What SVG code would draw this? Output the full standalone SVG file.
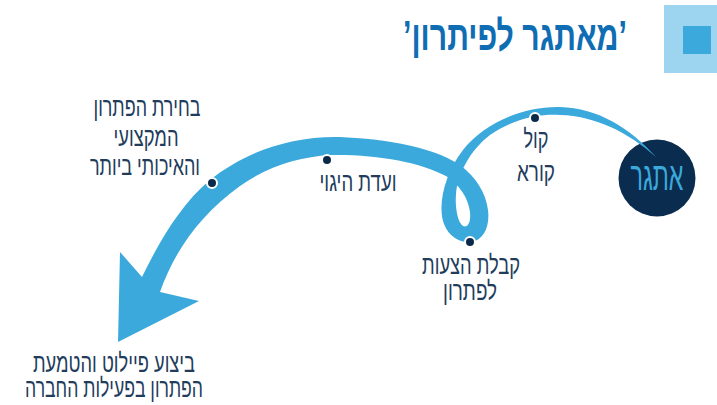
<svg xmlns="http://www.w3.org/2000/svg" width="717" height="405" viewBox="0 0 717 405">
<style>
.lbl{font-family:"Liberation Sans","DejaVu Sans",sans-serif;font-size:26px;fill:#223c5c;text-anchor:middle;direction:rtl}
.title{font-family:"Liberation Sans","DejaVu Sans",sans-serif;font-size:42px;font-weight:bold;fill:#0f6db4;text-anchor:middle;direction:rtl}
.node-lbl{font-family:"Liberation Sans","DejaVu Sans",sans-serif;font-size:40px;fill:#3ba9dc;text-anchor:middle;direction:rtl}
.ribbon{fill:#3ba9dc}
.dot{fill:#0b2a4a;stroke:#ffffff;stroke-width:2}
</style>
<rect width="717" height="405" fill="#ffffff"/>
<g id="title">
<rect x="664" y="5" width="53" height="68" fill="#9dd4ef"/>
<rect x="683" y="26" width="28" height="28" fill="#3ba9dc"/>
<text class="title" x="515" y="50" textLength="224" lengthAdjust="spacingAndGlyphs">’מאתגר לפיתרון’</text>
</g>
<g id="node-challenge">
<circle cx="657" cy="178" r="38.5" fill="#0a2c4e"/>
</g>
<g id="connectors">
<path class="ribbon" d="M656,157 C630,128 598,108 560,107 C525,106 485,122 463,150 C445,173 437,205 444,224 C449,237 460,243 471,242 C484,240 490,226 488,210 C486,193 476,177 460,165 C440,152 405,140 340,137 C290,136 245,152 210,180 C182,203 160,240 142,277 L120,252 L118,342 L199,301 L160,292 C175,250 200,215 240,186 C270,165 300,157 330,155 C375,154 420,162 446,176 C460,185 468,198 470,212 C471,222 468,228 463,226 C457,222 455,205 456,195 C457,175 470,150 490,135 C515,118 540,114 560,115 C595,116 628,132 656,157 Z"/>
</g>
<g id="node-challenge-label">
<text class="node-lbl" x="657" y="190" textLength="53" lengthAdjust="spacingAndGlyphs">אתגר</text>
</g>
<g id="step-call">
<circle class="dot" cx="535" cy="118" r="5"/>
<text class="lbl" x="536" y="148" textLength="25" lengthAdjust="spacingAndGlyphs">קול</text>
<text class="lbl" x="536" y="181" textLength="38" lengthAdjust="spacingAndGlyphs">קורא</text>
</g>
<g id="step-proposals">
<circle class="dot" cx="470" cy="242" r="5"/>
<text class="lbl" x="471" y="274" textLength="98" lengthAdjust="spacingAndGlyphs">קבלת הצעות</text>
<text class="lbl" x="470" y="300" textLength="54" lengthAdjust="spacingAndGlyphs">לפתרון</text>
</g>
<g id="step-committee">
<circle class="dot" cx="327" cy="160" r="5"/>
<text class="lbl" x="358" y="191" textLength="77" lengthAdjust="spacingAndGlyphs">ועדת היגוי</text>
</g>
<g id="step-choice">
<circle class="dot" cx="212" cy="183" r="5"/>
<text class="lbl" x="147" y="116" textLength="107" lengthAdjust="spacingAndGlyphs">בחירת הפתרון</text>
<text class="lbl" x="146" y="146" textLength="65" lengthAdjust="spacingAndGlyphs">המקצועי</text>
<text class="lbl" x="145" y="175" textLength="110" lengthAdjust="spacingAndGlyphs">והאיכותי ביותר</text>
</g>
<g id="step-pilot">
<text class="lbl" x="114" y="372" textLength="162" lengthAdjust="spacingAndGlyphs">ביצוע פיילוט והטמעת</text>
<text class="lbl" x="114" y="397" textLength="178" lengthAdjust="spacingAndGlyphs">הפתרון בפעילות החברה</text>
</g>
</svg>
